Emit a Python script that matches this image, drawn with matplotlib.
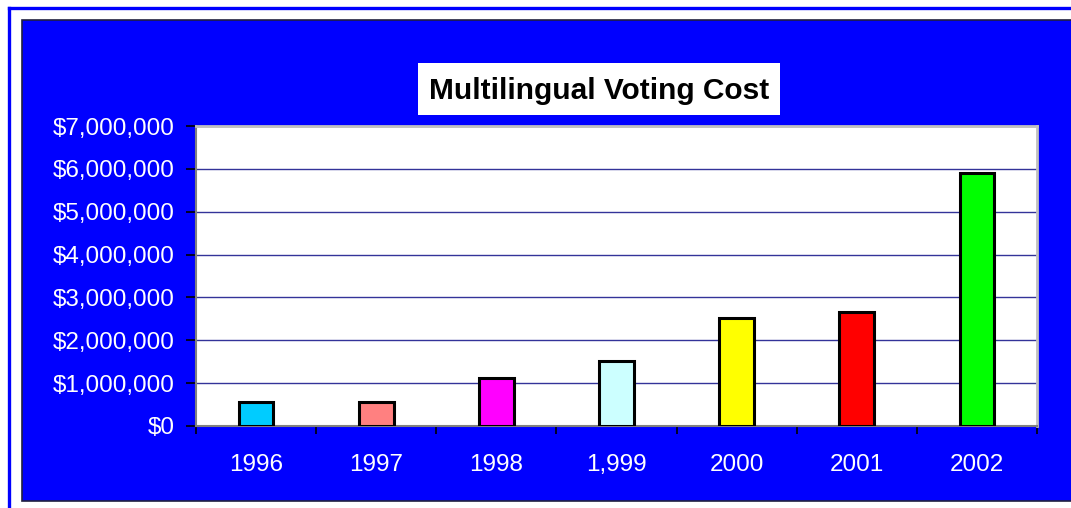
import matplotlib.pyplot as plt
from matplotlib.patches import Rectangle
from matplotlib.lines import Line2D
from matplotlib.ticker import FuncFormatter

years = ['1996', '1997', '1998', '1,999', '2000', '2001', '2002']
cost = [560000, 560000, 1120000, 1520000, 2510000, 2660000, 5900000]
bar_colors = ['#00ccff', '#ff8080', '#ff00ff', '#ccffff', '#ffff00', '#ff0000', '#00ff00']
yticks = [0, 1000000, 2000000, 3000000, 4000000, 5000000, 6000000, 7000000]

W, H = 1071, 508
fig = plt.figure(figsize=(W / 100, H / 100), dpi=100)
fig.patch.set_facecolor('white')
plt.rcParams['font.family'] = ['Liberation Sans', 'DejaVu Sans']

# outer thin blue frame
fig.add_artist(Line2D([8.5 / W, 8.5 / W], [1 - 7.5 / H, -0.1], color='#0000ff', lw=2.4, zorder=-2))
fig.add_artist(Line2D([8.5 / W, 1.1], [1 - 7.5 / H, 1 - 7.5 / H], color='#0000ff', lw=2.4, zorder=-2))

# blue chart area
fig.add_artist(Rectangle((22 / W, 1 - 501 / H), 1.1, 481 / H, transform=fig.transFigure,
                         facecolor='#0000ff', edgecolor='#202040', lw=1.2, zorder=-2))

# title box
fig.add_artist(Rectangle((418 / W, 1 - 115 / H), 362 / W, 52 / H, transform=fig.transFigure,
                         facecolor='white', edgecolor='none', zorder=-1))
fig.text(599 / W, 1 - 91 / H, 'Multilingual Voting Cost', ha='center', va='center',
         fontsize=21.5, fontweight='bold', color='black')

ax = fig.add_axes([196 / W, 82 / H, 841 / W, 300 / H])
ax.set_zorder(1)
ax.set_facecolor('white')
x = list(range(len(years)))
ax.bar(x, cost, width=0.29, color=bar_colors, edgecolor='black', linewidth=2.2, zorder=3)

ax.set_xlim(-0.5, len(years) - 0.5)
ax.set_ylim(0, 7000000)
ax.set_yticks(yticks)
ax.yaxis.set_major_formatter(FuncFormatter(lambda v, p: '${:,.0f}'.format(v)))
ax.grid(axis='y', color='#333399', lw=1, zorder=1)

ax.set_xticks(x)
ax.set_xticklabels(years)
ax.set_xticks([i - 0.5 for i in range(len(years) + 1)], minor=True)
ax.tick_params(axis='x', which='major', length=0, pad=20, labelsize=17.5, labelcolor='white')
ax.tick_params(axis='x', which='minor', length=6, width=1.2, color='black', direction='out')
ax.tick_params(axis='y', length=7, width=1.2, color='black', pad=8.5, labelsize=17.5,
               labelcolor='white')

for s in ['left', 'bottom']:
    ax.spines[s].set_color('#808080')
    ax.spines[s].set_linewidth(1.5)
for s in ['top', 'right']:
    ax.spines[s].set_color('#c0c0c0')
    ax.spines[s].set_linewidth(2)

fig.savefig('out.png', dpi=100, facecolor=fig.get_facecolor())
